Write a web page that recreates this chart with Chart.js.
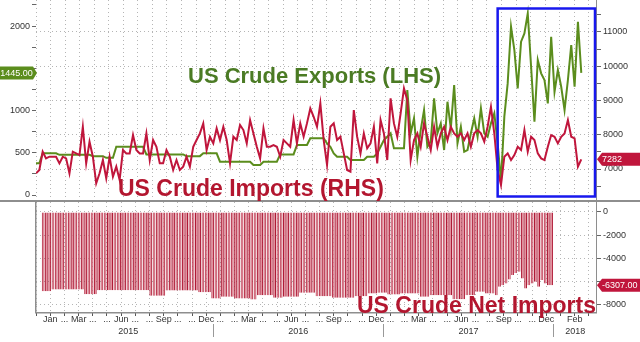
<!DOCTYPE html>
<html lang="en">
<head>
<meta charset="UTF-8">
<title>US Crude Exports vs Imports</title>
<script src="https://cdn.jsdelivr.net/npm/chart.js@4"></script>
<style>
    html, body { margin: 0; padding: 0; background: #fff; }
    #wrap { position: relative; width: 640px; height: 342px; overflow: hidden; background: #fff; }
    #top { position: absolute; left: 0; top: 0; }
    #bottom { position: absolute; left: 0; top: 202px; }
</style>
</head>
<body>
<div id="wrap">
    <canvas id="top" width="640" height="202"></canvas>
    <canvas id="bottom" width="640" height="140"></canvas>
</div>
<script>
// Weekly series, week 0 = first week of Jan 2015 (kb/d)
const exportsLHS = [
    375, 375, 493, 493, 493, 493, 493, 475, 475, 475,
    475, 475, 475, 475, 475, 475, 475, 460, 460, 460,
    460, 440, 440, 440, 571, 571, 571, 571, 571, 571,
    571, 571, 571, 480, 480, 480, 480, 480, 480, 480,
    480, 480, 480, 480, 480, 460, 460, 460, 460, 460,
    493, 493, 493, 493, 493, 394, 394, 394, 394, 394,
    394, 394, 394, 394, 394, 355, 355, 355, 394, 394,
    394, 394, 394, 480, 480, 480, 480, 480, 592, 592,
    592, 592, 671, 671, 671, 671, 671, 610, 571, 493,
    453, 453, 453, 453, 414, 414, 414, 414, 414, 453,
    453, 453, 493, 571, 650, 690, 730, 552, 552, 552,
    552, 1242, 730, 907, 453, 769, 1006, 571, 631, 1144,
    730, 848, 532, 1104, 789, 1301, 612, 808, 512, 532,
    730, 907, 690, 1026, 730, 690, 848, 966, 612, 158,
    927, 1321, 1991, 1715, 1262, 1814, 1912, 2149, 1518, 867,
    1597, 1440, 1360, 1085, 1873, 1222, 1479, 1281, 1006, 1360,
    1774, 1281, 2050, 1445
];

const importsRHS = [
    6874, 6971, 7505, 7311, 7359, 7359, 7359, 7165, 7359, 7311,
    6874, 7505, 7456, 7408, 8233, 7165, 7796, 7359, 6583, 6874,
    7262, 6728, 7359, 6776, 7068, 6680, 7554, 7456, 7456, 7991,
    7554, 7456, 7456, 8040, 7262, 7845, 7650, 7165, 7165, 7554,
    7359, 6971, 7262, 6971, 7068, 7359, 7068, 7650, 7845, 8040,
    8332, 7554, 7942, 7748, 8186, 7845, 8233, 7845, 7165, 7942,
    7845, 8283, 8137, 7748, 8429, 8040, 7650, 7311, 8186, 7650,
    7650, 7700, 7650, 7359, 7845, 7748, 7650, 8429, 7748, 8332,
    7942, 8332, 8769, 8525, 8233, 8915, 7845, 7117, 8233, 8332,
    7845, 7942, 7456, 6971, 6922, 8720, 7942, 7456, 8040, 7603,
    7748, 8233, 7165, 8429, 8040, 7262, 9061, 8332, 7942, 8624,
    9352, 9011, 7262, 7845, 8040, 7650, 8332, 7942, 7554, 8233,
    7650, 8040, 8233, 7845, 8233, 8040, 7942, 8040, 7845, 8040,
    7650, 8040, 8137, 8040, 7796, 8233, 8816, 8040, 6971, 6534,
    7359, 7456, 7262, 7408, 7650, 7554, 8137, 7505, 7942, 7845,
    7456, 7311, 7262, 7650, 7991, 7942, 7748, 7942, 8040, 8429,
    7942, 7894, 7068, 7282
];

const netImports = [
    -6810, -6810, -6810, -6664, -6664, -6664, -6664, -6664, -6664, -6664,
    -6664, -6664, -6664, -7070, -7070, -7070, -7070, -6724, -6724, -6724,
    -6724, -6724, -6724, -6724, -6724, -6724, -6724, -6724, -6724, -6724,
    -6724, -6724, -6724, -7215, -7215, -7215, -7215, -7215, -6750, -6750,
    -6750, -6750, -6750, -6750, -6750, -6750, -6750, -6750, -6900, -6900,
    -6900, -6900, -7440, -7440, -7440, -7300, -7300, -7300, -7300, -7440,
    -7440, -7440, -7440, -7440, -7530, -7530, -7155, -7155, -7155, -7155,
    -7155, -7385, -7385, -7385, -7300, -7300, -7300, -7300, -7300, -6955,
    -6955, -6955, -6955, -6955, -7240, -7240, -7240, -7240, -7240, -7385,
    -7385, -7385, -7385, -7385, -7385, -7385, -7240, -7240, -7240, -7240,
    -7010, -7010, -7010, -6950, -6950, -6950, -7100, -7100, -7100, -7100,
    -7010, -7010, -7010, -7010, -7010, -7010, -7300, -7300, -7300, -7155,
    -7155, -7155, -7155, -7155, -7155, -7155, -7500, -7500, -7500, -7500,
    -7155, -7155, -7155, -6870, -6870, -6870, -7010, -7010, -7010, -7155,
    -6440, -6300, -6150, -5800, -5430, -5250, -5150, -5720, -6580, -6300,
    -6150, -6000, -6440, -5860, -6150, -6300, -6307
];

const monthLabels = [
    'Jan', '...', 'Mar', '...', '...', 'Jun', '...', '...', 'Sep', '...', '...', 'Dec',
    '...', '...', 'Mar', '...', '...', 'Jun', '...', '...', 'Sep', '...', '...', 'Dec',
    '...', '...', 'Mar', '...', '...', 'Jun', '...', '...', 'Sep', '...', '...', 'Dec',
    '', 'Feb'
];
const yearLabels = ['2015', '2016', '2017', '2018'];

const lastExport = 1445.00;
const lastImport = 7282;
const lastNet = -6307.00;

const WPM = 52.18 / 12;          // weeks per month
const X_MIN = 0, X_MAX = 167.7;  // visible weeks

const GREEN = '#5b8d1d';
const GREEN_TXT = '#4b7b24';
const RED = '#c0163c';
const RED_TXT = '#b3162f';
const GRID = '#b5b5b5';
const AXIS = '#8e8e8e';
const FONT = "'Liberation Sans', Arial, sans-serif";

Chart.defaults.font.family = FONT;
Chart.defaults.font.size = 9;
Chart.defaults.color = '#333';

function toXY(arr) {
    return arr.map((v, i) => ({ x: i, y: v }));
}

function monthTicks(scale) {
    const ticks = [];
    for (let m = 0; m * WPM <= X_MAX; m++) ticks.push({ value: m * WPM });
    scale.ticks = ticks;
}

function stepTicks(from, to, step) {
    return function (scale) {
        const ticks = [];
        for (let v = from; v <= to; v += step) ticks.push({ value: v });
        scale.ticks = ticks;
    };
}

// fixed axis size, and no extra padding for the outer labels
function fixSize(w, h) {
    return function (s) {
        if (w !== null) s.width = w;
        if (h !== null) s.height = h;
        s.paddingTop = 0;
        s.paddingBottom = 0;
        s.paddingLeft = 0;
        s.paddingRight = 0;
    };
}

// little value flag on the axis
function drawTag(ctx, x0, x1, yc, text, color, pointLeft) {
    const h = 13;
    ctx.fillStyle = color;
    ctx.beginPath();
    if (pointLeft) {
        ctx.moveTo(x0, yc);
        ctx.lineTo(x0 + 5, yc - h / 2);
        ctx.lineTo(x1, yc - h / 2);
        ctx.lineTo(x1, yc + h / 2);
        ctx.lineTo(x0 + 5, yc + h / 2);
    } else {
        ctx.moveTo(x0, yc - h / 2);
        ctx.lineTo(x1 - 4, yc - h / 2);
        ctx.lineTo(x1, yc);
        ctx.lineTo(x1 - 4, yc + h / 2);
        ctx.lineTo(x0, yc + h / 2);
    }
    ctx.closePath();
    ctx.fill();
    ctx.fillStyle = '#fff';
    ctx.font = '9px ' + FONT;
    ctx.textBaseline = 'middle';
    ctx.textAlign = pointLeft ? 'left' : 'center';
    ctx.fillText(text, pointLeft ? x0 + 5 : (x0 + x1 - 4) / 2, yc + 0.5);
}

const topOverlay = {
    id: 'topOverlay',
    afterDraw(chart) {
        const { ctx, chartArea: a, scales } = chart;
        ctx.save();
        // panel separator and right axis line
        ctx.fillStyle = AXIS;
        ctx.fillRect(0, a.bottom - 1, chart.width, 2);
        ctx.fillRect(a.right - 1, 0, 1, a.bottom);

        // titles
        ctx.textAlign = 'left';
        ctx.textBaseline = 'alphabetic';
        ctx.font = 'bold 22px ' + FONT;
        ctx.fillStyle = GREEN_TXT;
        ctx.fillText('US Crude Exports (LHS)', 188, 83);
        ctx.font = 'bold 23px ' + FONT;
        ctx.fillStyle = RED_TXT;
        ctx.fillText('US Crude Imports (RHS)', 118, 196);

        // blue highlight box
        const bx0 = scales.x.getPixelForValue(138);
        const bx1 = scales.x.getPixelForValue(167.1);
        ctx.strokeStyle = '#1818ee';
        ctx.lineWidth = 2.5;
        ctx.strokeRect(bx0, a.top + 8.5, bx1 - bx0, a.bottom - 13);

        drawTag(ctx, 0, 37, scales.y.getPixelForValue(lastExport), lastExport.toFixed(2), GREEN, false);
        drawTag(ctx, a.right, chart.width, scales.y2.getPixelForValue(lastImport), String(lastImport), RED, true);
        ctx.restore();
    }
};

const bottomOverlay = {
    id: 'bottomOverlay',
    afterDraw(chart) {
        const { ctx, chartArea: a, scales } = chart;
        const x = scales.x;
        ctx.save();
        ctx.fillStyle = AXIS;
        ctx.fillRect(a.left - 1, 0, 1.5, a.bottom);
        ctx.fillRect(a.right - 1, 0, 1, a.bottom);
        ctx.fillRect(a.left - 1, a.bottom - 1, a.right - a.left + 1, 1.5);

        // month labels
        ctx.fillStyle = '#333';
        ctx.font = '9px ' + FONT;
        ctx.textAlign = 'center';
        ctx.textBaseline = 'middle';
        monthLabels.forEach((lab, m) => {
            const px = x.getPixelForValue((m + 0.5) * WPM);
            if (lab && px < a.right) ctx.fillText(lab, px, a.bottom + 7);
        });

        // years with separators
        yearLabels.forEach((yr, k) => {
            const p0 = Math.max(a.left, x.getPixelForValue(k * 12 * WPM));
            const p1 = Math.min(a.right, x.getPixelForValue((k + 1) * 12 * WPM));
            ctx.fillStyle = '#333';
            ctx.fillText(yr, (p0 + p1) / 2, a.bottom + 19);
            if (k > 0) {
                ctx.fillStyle = '#999';
                ctx.fillRect(Math.round(p0), a.bottom + 11, 1, 13);
            }
        });

        ctx.textAlign = 'left';
        ctx.textBaseline = 'alphabetic';
        ctx.font = 'bold 23px ' + FONT;
        ctx.fillStyle = RED_TXT;
        ctx.fillText('US Crude Net Imports', 357, a.bottom);

        drawTag(ctx, a.right, chart.width, scales.y.getPixelForValue(lastNet), lastNet.toFixed(2), RED, true);
        ctx.restore();
    }
};

// Top panel: exports (left axis) and imports (right axis)
new Chart(document.getElementById('top'), {
    type: 'line',
    data: {
        datasets: [
            {
                label: 'US Crude Imports (RHS)',
                data: toXY(importsRHS),
                yAxisID: 'y2',
                borderColor: RED,
                borderWidth: 2,
                pointRadius: 0,
                tension: 0
            },
            {
                label: 'US Crude Exports (LHS)',
                data: toXY(exportsLHS),
                yAxisID: 'y',
                borderColor: GREEN,
                borderWidth: 2,
                pointRadius: 0,
                tension: 0
            }
        ]
    },
    options: {
        responsive: false,
        animation: false,
        devicePixelRatio: 1,
        layout: { padding: { top: 0, bottom: 1, left: 0, right: 0 } },
        plugins: { legend: { display: false }, tooltip: { enabled: false } },
        scales: {
            x: {
                type: 'linear',
                min: X_MIN,
                max: X_MAX,
                afterBuildTicks: monthTicks,
                afterFit: fixSize(null, 0),
                ticks: { display: false },
                grid: { color: GRID, drawTicks: false },
                border: { display: false, dash: [1, 3] }
            },
            y: {
                position: 'left',
                min: -71,
                max: 2308,
                afterBuildTicks: stepTicks(0, 2250, 250),
                afterFit: fixSize(36, null),
                ticks: {
                    autoSkip: false,
                    padding: 2,
                    callback: v => (v % 500 === 0 && v !== 1500) ? String(v) : ''
                },
                grid: { drawOnChartArea: false, tickColor: '#666', tickLength: 4 },
                border: { display: false }
            },
            y2: {
                position: 'right',
                min: 6066,
                max: 11934,
                afterBuildTicks: stepTicks(6500, 11500, 500),
                afterFit: fixSize(43, null),
                ticks: {
                    autoSkip: false,
                    padding: 2,
                    callback: v => v % 1000 === 0 ? String(v) : ''
                },
                grid: {
                    color: c => (c.tick && c.tick.value % 1000 === 0) ? GRID : 'rgba(0,0,0,0)',
                    tickColor: '#666',
                    tickLength: 4
                },
                border: { display: false, dash: [1, 3] }
            }
        }
    },
    plugins: [topOverlay]
});

// Bottom panel: net imports bars
new Chart(document.getElementById('bottom'), {
    type: 'bar',
    data: {
        datasets: [{
            label: 'US Crude Net Imports',
            data: toXY(netImports),
            backgroundColor: '#e0808f',
            borderColor: '#ad1a36',
            borderWidth: { left: 1, right: 1, top: 0, bottom: 0 },
            borderSkipped: 'start',
            barPercentage: 0.85,
            categoryPercentage: 1
        }]
    },
    options: {
        responsive: false,
        animation: false,
        devicePixelRatio: 1,
        layout: { padding: { left: 36, top: 0, right: 0, bottom: 0 } },
        plugins: { legend: { display: false }, tooltip: { enabled: false } },
        scales: {
            x: {
                type: 'linear',
                min: X_MIN,
                max: X_MAX,
                afterBuildTicks: monthTicks,
                afterFit: fixSize(null, 29),
                ticks: { display: false },
                grid: { color: GRID, tickColor: '#555', tickLength: 3 },
                border: { display: false, dash: [1, 3] }
            },
            y: {
                position: 'right',
                min: -8690,
                max: 860,
                afterBuildTicks: stepTicks(-8000, 0, 2000),
                afterFit: fixSize(43, null),
                ticks: {
                    autoSkip: false,
                    padding: 2,
                    callback: v => v === -6000 ? '' : String(v)
                },
                grid: { color: GRID, tickColor: '#666', tickLength: 4 },
                border: { display: false, dash: [1, 3] }
            }
        }
    },
    plugins: [bottomOverlay]
});
</script>
</body>
</html>
